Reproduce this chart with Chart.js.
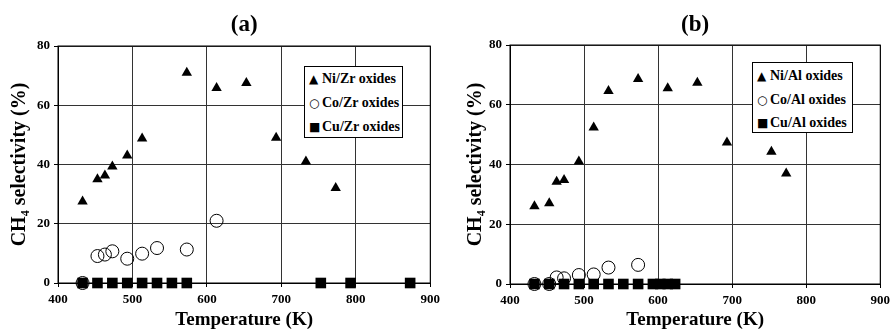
<!DOCTYPE html>
<html>
<head>
<meta charset="utf-8">
<script src="https://cdn.jsdelivr.net/npm/chart.js@4.4.0/dist/chart.umd.min.js"></script>
<style>
  body { margin: 0; background: #fff; }
  .panel { position: absolute; top: 0; height: 330px; }
  .legend { position: absolute; box-sizing: border-box; border: 1px solid #000; background: #fff;
            font: bold 14px "Liberation Serif", serif; color: #000; padding-left: 4px; }
  .legend div { white-space: nowrap; }
  .legend span { display: inline-block; width: 13px; font: 12px "DejaVu Sans", sans-serif; }
</style>
</head>
<body>
<div class="panel" style="left:0;width:445px;">
  <canvas id="chartA"></canvas>
  <div class="legend" id="legA" style="left:304px;top:66px;width:99px;height:72px;line-height:24px;"></div>
</div>
<div class="panel" style="left:445px;width:450px;">
  <canvas id="chartB"></canvas>
  <div class="legend" id="legB" style="left:307px;top:62px;width:101px;height:71px;line-height:23.5px;padding-top:1px;"></div>
</div>
<script>
// -------- Axes --------
const xTicks = [400, 500, 600, 700, 800, 900];
const yTicks = [0, 20, 40, 60, 80];

// -------- (a) Zr oxides: temperature (K) / CH4 selectivity (%) --------
const niZrT = [433, 453, 463, 473, 493, 513, 573, 613, 653, 693, 733, 773];
const niZrS = [27.5, 35, 36.3, 39.3, 43, 48.8, 71, 65.8, 67.5, 49, 41, 32.1];
const coZrT = [433, 453, 463, 473, 493, 513, 533, 573, 613];
const coZrS = [0, 9.1, 9.6, 10.7, 8.2, 9.9, 11.8, 11.3, 21];
const cuZrT = [433, 453, 473, 493, 513, 533, 553, 573, 753, 793, 873];
const cuZrS = [0, 0, 0, 0, 0, 0, 0, 0, 0, 0, 0];

// -------- (b) Al oxides --------
const niAlT = [433, 453, 463, 473, 493, 513, 533, 573, 613, 653, 693, 753, 773];
const niAlS = [26, 27, 34.2, 34.8, 41, 52.4, 64.6, 68.6, 65.5, 67.4, 47.4, 44.3, 37];
const coAlT = [433, 453, 463, 473, 493, 513, 533, 573];
const coAlS = [0, 0, 2.2, 1.9, 3, 3.2, 5.5, 6.4];
const cuAlT = [433, 453, 473, 493, 513, 533, 553, 573, 593, 603, 613, 623];
const cuAlS = [0, 0, 0, 0, 0, 0, 0, 0, 0, 0, 0, 0];

const labelsA = ['Ni/Zr oxides', 'Co/Zr oxides', 'Cu/Zr oxides'];
const labelsB = ['Ni/Al oxides', 'Co/Al oxides', 'Cu/Al oxides'];
const symbols = ['\u25B2', '\u25CB', '\u25A0'];

const serif = '"Liberation Serif", "Times New Roman", serif';
const pts = (t, s) => t.map((x, i) => ({ x, y: s[i] }));

function series(labels, ni, co, cu) {
  return [
    { label: labels[0], data: ni, pointStyle: 'triangle', pointRadius: 6,
      backgroundColor: '#000', borderColor: '#000', borderWidth: 0 },
    { label: labels[1], data: co, pointStyle: 'circle', pointRadius: 6.5,
      backgroundColor: 'rgba(0,0,0,0)', borderColor: '#000', borderWidth: 1 },
    { label: labels[2], data: cu, pointStyle: 'rect', pointRadius: 7.5,
      backgroundColor: '#000', borderColor: '#000', borderWidth: 0 }
  ].map(d => ({ ...d, clip: false, pointHoverRadius: d.pointRadius }));
}

function makeChart(id, title, datasets, g) {
  return new Chart(document.getElementById(id), {
    type: 'scatter',
    data: { datasets },
    options: {
      responsive: true,
      maintainAspectRatio: false,
      animation: false,
      events: [],
      layout: { padding: { left: 0, right: g.padRight, top: 0, bottom: 0 } },
      plugins: {
        legend: { display: false },
        tooltip: { enabled: false },
        title: {
          display: true, text: title, color: '#000', fullSize: false,
          font: { family: serif, size: 23, weight: 'bold', lineHeight: 1.2 },
          padding: { top: 11, bottom: g.titleBottom }
        }
      },
      scales: {
        x: {
          type: 'linear', min: 400, max: 900,
          afterBuildTicks: s => { s.ticks = xTicks.map(v => ({ value: v })); },
          afterFit: s => { s.height = g.xHeight; },
          grid: { color: '#333', lineWidth: 1, tickLength: 4, tickColor: '#000' },
          border: { color: '#000', width: 1 },
          ticks: { color: '#000', padding: 5, maxRotation: 0,
                   font: { family: serif, size: 13, weight: 'bold' } },
          title: { display: true, text: 'Temperature (K)', color: '#000',
                   padding: { top: 0, bottom: 0 },
                   font: { family: serif, size: 19, weight: 'bold', lineHeight: 1 } }
        },
        y: {
          type: 'linear', min: 0, max: 80,
          afterBuildTicks: s => { s.ticks = yTicks.map(v => ({ value: v })); },
          afterFit: s => { s.width = g.yWidth; },
          grid: { color: '#333', lineWidth: 1, tickLength: 4, tickColor: '#000' },
          border: { color: '#000', width: 1 },
          ticks: { color: '#000', padding: 4,
                   font: { family: serif, size: 13, weight: 'bold' } },
          title: { display: true, text: 'CH\u2084 selectivity (%)', color: '#000',
                   padding: { top: g.yTitlePad, bottom: 0 },
                   font: { family: serif, size: 20, weight: 'bold', lineHeight: 1 } }
        }
      }
    },
    plugins: [{
      id: 'frame',
      afterDraw(chart) {
        const { ctx, chartArea: a } = chart;
        ctx.save();
        ctx.strokeStyle = '#000';
        ctx.lineWidth = 1;
        ctx.strokeRect(a.left, a.top, a.right - a.left, a.bottom - a.top);
        ctx.restore();
      }
    }]
  });
}

function fillLegend(id, labels) {
  document.getElementById(id).innerHTML = labels
    .map((l, i) => `<div><span>${symbols[i]}</span>${l}</div>`).join('');
}

makeChart('chartA', '(a)',
  series(labelsA, pts(niZrT, niZrS), pts(coZrT, coZrS), pts(cuZrT, cuZrS)),
  { padRight: 12, yWidth: 58, xHeight: 47, titleBottom: 7.4, yTitlePad: 9.5 });
makeChart('chartB', '(b)',
  series(labelsB, pts(niAlT, niAlS), pts(coAlT, coAlS), pts(cuAlT, cuAlS)),
  { padRight: 10, yWidth: 65, xHeight: 46, titleBottom: 6.4, yTitlePad: 21 });

fillLegend('legA', labelsA);
fillLegend('legB', labelsB);
</script>
</body>
</html>
